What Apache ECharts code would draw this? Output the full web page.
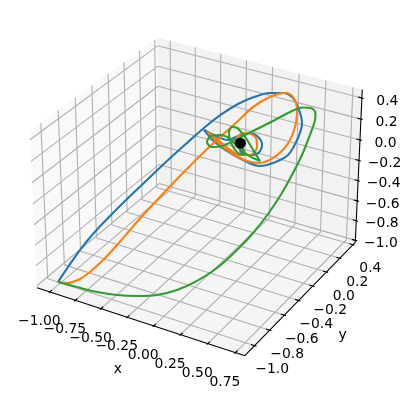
<!DOCTYPE html>
<html><head><meta charset="utf-8"><style>html,body{margin:0;background:#fff}#c{width:412px;height:400px}</style></head><body><div id="c"></div>
<script src="https://cdn.jsdelivr.net/npm/echarts@6/dist/echarts.min.js"></script>
<script>
const xTicks=[-1,-0.75,-0.5,-0.25,0,0.25,0.5,0.75];
const yTicks=[-1,-0.8,-0.6,-0.4,-0.2,0,0.2,0.4];
const zTicks=[-1,-0.8,-0.6,-0.4,-0.2,0,0.2,0.4];
const xLabels=['−1.00','−0.75','−0.50','−0.25','0.00','0.25','0.50','0.75'];
const yLabels=['−1.0','−0.8','−0.6','−0.4','−0.2','0.0','0.2','0.4'];
const zLabels=['−1.0','−0.8','−0.6','−0.4','−0.2','0.0','0.2','0.4'];
const blueX=[-1.013,-.954,-.885,-.811,-.726,-.620,-.509,-.398,-.288,-.188,-.095,-.008,.080,.167,.238,.293,.326,.342,.319,.263,.178,.105,.023,-.058,-.138,-.194,-.131,-.067,-.012,.043,.092,.119,.090,.035,-.003,.003];
const blueY=[-1.014,-.958,-.893,-.821,-.739,-.635,-.526,-.417,-.307,-.209,-.116,-.027,.062,.154,.230,.291,.332,.356,.339,.286,.200,.124,.034,-.057,-.148,-.214,-.144,-.073,-.016,.041,.095,.128,.102,.043,.000,.004];
const blueZ=[-1.006,-.875,-.730,-.598,-.470,-.321,-.174,-.028,.108,.229,.322,.388,.425,.434,.409,.341,.212,.077,-.065,-.216,-.265,-.268,-.187,-.076,.063,.201,.119,.056,.076,.086,.038,-.062,-.141,-.131,-.067,-.009];
const orangeX=[-1.014,-.959,-.894,-.826,-.755,-.680,-.612,-.533,-.453,-.357,-.223,-.131,-.039,.047,.144,.234,.287,.324,.327,.293,.217,.139,.056,-.057,-.146,-.216,-.141,-.073,.008,.070,.107,.093,.032,-.021,-.025,.005];
const orangeY=[-1.013,-.972,-.918,-.853,-.778,-.695,-.616,-.527,-.438,-.332,-.187,-.090,.007,.098,.189,.265,.299,.305,.278,.221,.140,.072,.012,-.059,-.109,-.144,-.102,-.064,-.015,.033,.075,.080,.042,-.004,-.024,.002];
const orangeZ=[-1.007,-1.027,-1.014,-.958,-.868,-.751,-.634,-.502,-.379,-.233,-.043,.077,.189,.301,.370,.388,.345,.227,.080,-.069,-.168,-.197,-.164,-.065,.037,.144,.053,-.028,-.103,-.115,-.052,.028,.082,.066,-.019,-.008];
const greenX=[-1.017,-.819,-.614,-.421,-.240,-.069,.084,.218,.335,.431,.498,.547,.580,.591,.594,.580,.560,.535,.474,.401,.306,.194,.106,.039,-.063,-.153,-.239,-.308,-.299,-.221,-.126,-.004,.120,.253,.125,.014,-.099,-.149,-.149,-.067,.022,.094,.045];
const greenY=[-1.009,-1.021,-1.031,-1.030,-1.017,-.993,-.945,-.874,-.781,-.658,-.543,-.417,-.280,-.162,-.031,.099,.198,.242,.272,.270,.233,.164,.114,.075,.017,-.031,-.044,-.016,.025,.038,.025,-.026,-.069,-.098,-.022,.043,.095,.098,.057,-.017,-.064,-.071,-.029];
const greenZ=[-1.010,-.987,-.962,-.929,-.888,-.839,-.774,-.692,-.595,-.476,-.370,-.257,-.136,-.036,.073,.180,.258,.291,.305,.292,.245,.169,.112,.069,.003,-.051,-.077,-.065,-.029,-.005,.000,-.022,-.038,-.040,.002,.038,.063,.057,.023,-.026,-.049,-.044,-.016];
const centreX=[0],centreY=[0],centreZ=[0];
const xLim=[-1.127,0.835],yLim=[-1.127,0.437],zLim=[-1.02,0.48];

const view={S:2000,cx:199.1,cy:189,dist:10};
const boxA=[1.1905,1.1905,0.8929];
const u=[0.8660,0.5,0],v=[-0.25,0.4330,0.8660],w=[0.4330,-0.75,0.5];
const K=[boxA[0]/(xLim[1]-xLim[0]),boxA[1]/(yLim[1]-yLim[0]),boxA[2]/(zLim[1]-zLim[0])];
const C=[(xLim[0]+xLim[1])/2,(yLim[0]+yLim[1])/2,(zLim[0]+zLim[1])/2];
const dot3=(a,b)=>a[0]*b[0]+a[1]*b[1]+a[2]*b[2];
function proj(x,y,z){const q=[K[0]*(x-C[0]),K[1]*(y-C[1]),K[2]*(z-C[2])];const d=view.dist-dot3(w,q);
 return [view.cx+view.S*dot3(u,q)/d,view.cy-view.S*dot3(v,q)/d];}
const curve=(X,Y,Z)=>X.map((x,i)=>proj(x,Y[i],Z[i]));

const gridPts=[];const seg=(a,b)=>{gridPts.push(proj(...a),proj(...b),['-','-']);};
xTicks.forEach(t=>{seg([t,yLim[0],zLim[0]],[t,yLim[1],zLim[0]]);seg([t,yLim[1],zLim[0]],[t,yLim[1],zLim[1]]);});
yTicks.forEach(t=>{seg([xLim[0],t,zLim[0]],[xLim[1],t,zLim[0]]);seg([xLim[0],t,zLim[0]],[xLim[0],t,zLim[1]]);});
zTicks.forEach(t=>{seg([xLim[0],yLim[0],t],[xLim[0],yLim[1],t]);seg([xLim[0],yLim[1],t],[xLim[1],yLim[1],t]);});
const axPts=[];const aseg=(a,b)=>{axPts.push(proj(...a),proj(...b),['-','-']);};
aseg([xLim[0],yLim[0],zLim[0]],[xLim[1],yLim[0],zLim[0]]);
aseg([xLim[1],yLim[0],zLim[0]],[xLim[1],yLim[1],zLim[0]]);
aseg([xLim[1],yLim[1],zLim[0]],[xLim[1],yLim[1],zLim[1]]);
const dy=(yLim[1]-yLim[0])/12,dx=(xLim[1]-xLim[0])/12;
const labels=[];
xTicks.forEach((t,i)=>{aseg([t,yLim[0]-.1*dy,zLim[0]],[t,yLim[0]+.2*dy,zLim[0]]);const p=proj(t,yLim[0],zLim[0]);labels.push([p[0]-10.5,p[1]+29.5,xLabels[i]]);});
yTicks.forEach((t,i)=>{aseg([xLim[1]+.1*dx,t,zLim[0]],[xLim[1]-.2*dx,t,zLim[0]]);const p=proj(xLim[1],t,zLim[0]);labels.push([p[0]+17.5,p[1]+24,yLabels[i]]);});
zTicks.forEach((t,i)=>{aseg([xLim[1]+.1*dx,yLim[1],t],[xLim[1]-.2*dx,yLim[1],t]);const p=proj(xLim[1],yLim[1],t);labels.push([p[0]+25.5,p[1]+3,zLabels[i]]);});
const xlp=proj(-0.14,yLim[0],zLim[0]),ylp=proj(xLim[1],-0.345,zLim[0]);
labels.push([xlp[0]-21,xlp[1]+48,'x'],[ylp[0]+40,ylp[1]+39,'y']);
const panes=[
 {c:'#f9f9f9',p:[[xLim[0],yLim[0],zLim[0]],[xLim[0],yLim[1],zLim[0]],[xLim[0],yLim[1],zLim[1]],[xLim[0],yLim[0],zLim[1]]]},
 {c:'#f2f2f2',p:[[xLim[0],yLim[1],zLim[0]],[xLim[1],yLim[1],zLim[0]],[xLim[1],yLim[1],zLim[1]],[xLim[0],yLim[1],zLim[1]]]},
 {c:'#f5f5f5',p:[[xLim[0],yLim[0],zLim[0]],[xLim[1],yLim[0],zLim[0]],[xLim[1],yLim[1],zLim[0]],[xLim[0],yLim[1],zLim[0]]]}];
const lineBase={type:'line',showSymbol:false,symbol:'none',silent:true,animation:false,clip:false};
const chart=echarts.init(document.getElementById('c'),null,{renderer:'canvas'});
chart.setOption({animation:false,backgroundColor:'#fff',
 grid:{left:0,right:0,top:0,bottom:0},
 xAxis:{type:'value',min:0,max:412,show:false},
 yAxis:{type:'value',min:0,max:400,inverse:true,show:false},
 series:[
 {type:'custom',silent:true,z:1,data:panes.map((_,i)=>[i]),renderItem:(p,api)=>{const P=panes[api.value(0)];
   return {type:'polygon',shape:{points:P.p.map(q=>api.coord(proj(...q)))},style:{fill:P.c}};}},
 {...lineBase,data:gridPts,connectNulls:false,lineStyle:{color:'#b0b0b0',width:1.1}},
 {...lineBase,data:axPts,connectNulls:false,lineStyle:{color:'#000',width:1.1}},
 {...lineBase,name:'blue',smooth:0.33,data:curve(blueX,blueY,blueZ),lineStyle:{color:'#1f77b4',width:2.1}},
 {...lineBase,name:'orange',smooth:0.33,data:curve(orangeX,orangeY,orangeZ),lineStyle:{color:'#ff7f0e',width:2.1}},
 {...lineBase,name:'green',smooth:0.33,data:curve(greenX,greenY,greenZ),lineStyle:{color:'#2ca02c',width:2.1}},
 {type:'scatter',silent:true,animation:false,z:6,symbolSize:11,itemStyle:{color:'#000',opacity:1},data:curve(centreX,centreY,centreZ)},
 {type:'custom',silent:true,z:7,data:labels,encode:{x:0,y:1},renderItem:(p,api)=>{const L=labels[p.dataIndex];const c=api.coord([L[0],L[1]]);
   return {type:'text',style:{x:c[0],y:c[1],text:L[2],fill:'#000',font:'13.9px "DejaVu Sans"',align:'center',verticalAlign:'middle'}};}}
 ]});
</script></body></html>
